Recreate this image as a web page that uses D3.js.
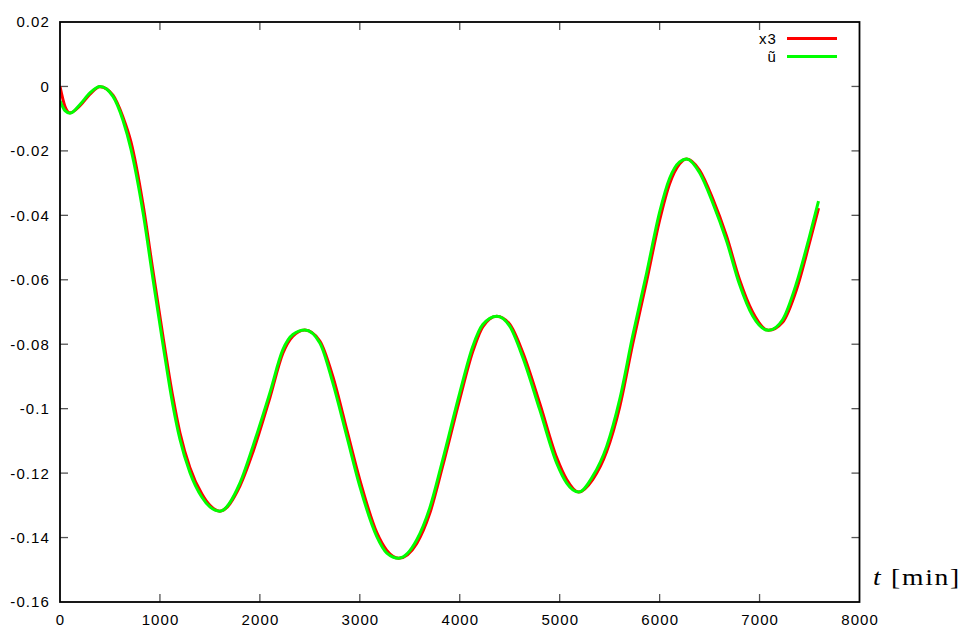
<!DOCTYPE html>
<html>
<head>
<meta charset="utf-8">
<script src="https://cdn.jsdelivr.net/npm/d3@7"></script>
<style>
  body { margin: 0; background: #fff; }
  svg { display: block; }
  .tick-label { font-family: Arial, "Liberation Sans", sans-serif; font-size: 15px; letter-spacing: 1.1px; fill: #000; }
</style>
</head>
<body>
<svg id="chart" width="961" height="628"></svg>
<script>
'use strict';

/* gnuplot style line chart: x3 vs u~ over time */

// time in minutes
var times = [0, 50, 100, 200, 300, 400, 530, 630, 710, 830, 930, 1030, 1130, 1200, 1300,
    1420, 1500, 1600, 1800, 1930, 2100, 2230, 2330, 2450, 2600, 2730, 2870, 3000, 3170,
    3270, 3390, 3570, 3700, 3830, 4000, 4130, 4230, 4370, 4500, 4630, 4800, 4970, 5070,
    5190, 5330, 5470, 5600, 5730, 5870, 6000, 6100, 6200, 6270, 6400, 6530, 6670, 6800,
    6930, 7090, 7230, 7370, 7500, 7590];

// x3 (red)
var x3Values = [0, -0.0062, -0.0082, -0.0060, -0.0024, -0.0001, -0.0027, -0.0095, -0.0172,
    -0.0365, -0.0572, -0.0775, -0.0965, -0.1075, -0.1183, -0.1265, -0.1300, -0.1318,
    -0.1240, -0.1135, -0.0966, -0.0828, -0.0775, -0.0756, -0.0790, -0.0900, -0.1066,
    -0.1221, -0.1385, -0.1440, -0.1464, -0.1418, -0.1325, -0.1177, -0.0970, -0.0823,
    -0.0746, -0.0713, -0.0738, -0.0825, -0.0983, -0.1152, -0.1220, -0.1259, -0.1220,
    -0.1133, -0.0995, -0.0800, -0.0604, -0.0415, -0.0302, -0.0240, -0.0225, -0.0260,
    -0.0347, -0.0465, -0.0600, -0.0700, -0.0757, -0.0732, -0.0630, -0.0485, -0.0378];

// u~ (green)
var uValues = [-0.0045, -0.0075, -0.0083, -0.0056, -0.0020, 0.0, -0.0031, -0.0105, -0.0195,
    -0.0390, -0.0597, -0.0800, -0.0990, -0.1095, -0.1198, -0.1275, -0.1305, -0.1318,
    -0.1231, -0.1117, -0.0951, -0.0817, -0.0770, -0.0756, -0.0796, -0.0920, -0.1086,
    -0.1241, -0.1397, -0.1448, -0.1464, -0.1407, -0.1308, -0.1158, -0.0951, -0.0807,
    -0.0739, -0.0713, -0.0744, -0.0840, -0.1003, -0.1169, -0.1231, -0.1259, -0.1210,
    -0.1117, -0.0972, -0.0775, -0.0579, -0.0390, -0.0285, -0.0234, -0.0225, -0.0268,
    -0.0360, -0.0480, -0.0615, -0.0712, -0.0757, -0.0724, -0.0610, -0.0465, -0.0356];

var xTicks = [0, 1000, 2000, 3000, 4000, 5000, 6000, 7000, 8000];
var yTicks = [0.02, 0, -0.02, -0.04, -0.06, -0.08, -0.1, -0.12, -0.14, -0.16];
var seriesNames = ['x3', '\u0169'];
var seriesColors = ['#ff0000', '#00ff00'];

var plotLeft = 60, plotRight = 859.5, plotTop = 22, plotBottom = 602;
var tickLen = 8;

var svg = d3.select('#chart');

var x = d3.scaleLinear().domain([0, 8000]).range([plotLeft, plotRight]);
var y = d3.scaleLinear().domain([-0.16, 0.02]).range([plotBottom, plotTop]);

//ticks on all four sides, pointing inward
var tickG = svg.append('g').attr('stroke', '#555').attr('stroke-width', 1.3);
xTicks.forEach(function (t) {
    if (t === 0 || t === 8000) { return; }
    tickG.append('line').attr('x1', x(t)).attr('x2', x(t)).attr('y1', plotBottom).attr('y2', plotBottom - tickLen);
    tickG.append('line').attr('x1', x(t)).attr('x2', x(t)).attr('y1', plotTop).attr('y2', plotTop + tickLen);
});
yTicks.forEach(function (v) {
    if (v === 0.02 || v === -0.16) { return; }
    tickG.append('line').attr('x1', plotLeft).attr('x2', plotLeft + tickLen).attr('y1', y(v)).attr('y2', y(v));
    tickG.append('line').attr('x1', plotRight).attr('x2', plotRight - tickLen).attr('y1', y(v)).attr('y2', y(v));
});

//tick labels (letter-spacing adds a trailing gap, so nudge right)
svg.append('g').selectAll('text').data(xTicks).enter().append('text')
    .attr('class', 'tick-label')
    .attr('x', function (d) { return x(d) + 0.6; })
    .attr('y', plotBottom + 23)
    .attr('text-anchor', 'middle')
    .text(function (d) { return d; });

svg.append('g').selectAll('text').data(yTicks).enter().append('text')
    .attr('class', 'tick-label')
    .attr('x', plotLeft - 10)
    .attr('y', function (d) { return y(d); })
    .attr('dy', '0.36em')
    .attr('text-anchor', 'end')
    .text(function (d) { return d === 0 ? '0' : String(+d.toFixed(2)); });

//curves
var clip = svg.append('clipPath').attr('id', 'plotclip');
clip.append('rect').attr('x', plotLeft).attr('y', plotTop)
    .attr('width', plotRight - plotLeft).attr('height', plotBottom - plotTop);

var line = d3.line()
    .x(function (d) { return x(d[0]); })
    .y(function (d) { return y(d[1]); })
    .curve(d3.curveMonotoneX);

var series = [x3Values, uValues];
var plotG = svg.append('g').attr('clip-path', 'url(#plotclip)');
series.forEach(function (vals, i) {
    plotG.append('path')
        .datum(d3.zip(times, vals))
        .attr('fill', 'none')
        .attr('stroke', seriesColors[i])
        .attr('stroke-width', 3)
        .attr('stroke-linejoin', 'round')
        .attr('d', line);
});

//frame
svg.append('rect')
    .attr('x', plotLeft).attr('y', plotTop)
    .attr('width', plotRight - plotLeft).attr('height', plotBottom - plotTop)
    .attr('fill', 'none').attr('stroke', '#000').attr('stroke-width', 1.8);

//legend
var legend = svg.append('g');
seriesNames.forEach(function (name, i) {
    var ly = 38.5 + i * 18;
    legend.append('text')
        .attr('class', 'tick-label')
        .attr('x', 777).attr('y', ly)
        .attr('dy', '0.36em')
        .attr('text-anchor', 'end')
        .text(name);
    legend.append('line')
        .attr('x1', 787).attr('x2', 837)
        .attr('y1', ly).attr('y2', ly)
        .attr('stroke', seriesColors[i])
        .attr('stroke-width', 3);
});

//axis title, widened a little to match the serif face of the original
var title = svg.append('text')
    .attr('transform', 'translate(873,585) scale(1.15,1)')
    .style('font-family', '"Liberation Serif", "DejaVu Serif", serif')
    .style('font-size', '24px')
    .style('letter-spacing', '1.5px');
title.append('tspan').style('font-style', 'italic').text('t');
title.append('tspan').text(' [min]');
</script>
</body>
</html>
